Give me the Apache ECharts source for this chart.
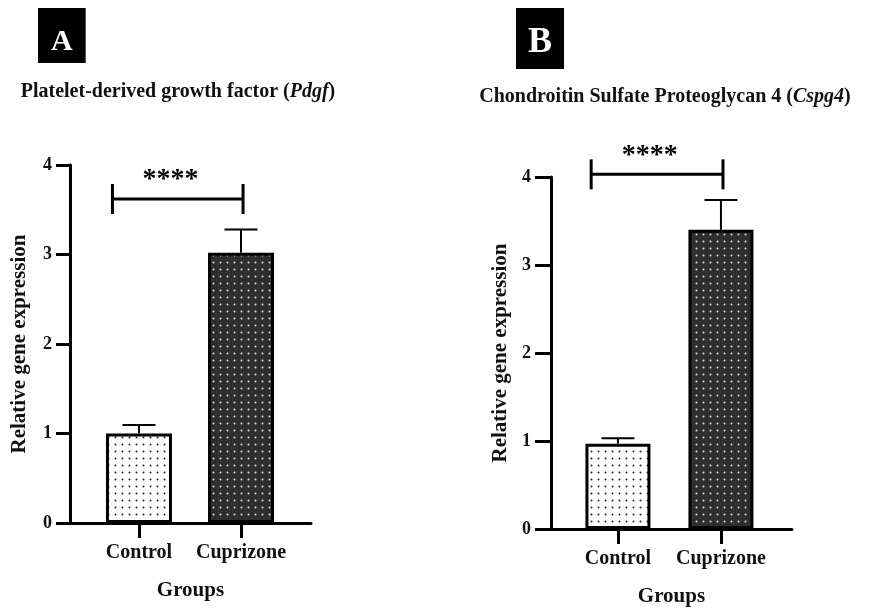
<!DOCTYPE html>
<html>
<head>
<meta charset="utf-8">
<script src="https://cdn.jsdelivr.net/npm/echarts@6/dist/echarts.min.js"></script>
<style>
  html, body { margin: 0; padding: 0; background: #fff; }
  #chart { width: 869px; height: 612px; }
</style>
</head>
<body>
<div id="chart"></div>
<script>
var categories = ['Control', 'Cuprizone'];
var yTicks = [0, 1, 2, 3, 4];
// Pdgf
var pdgfMean = [1.0, 3.02];
var pdgfUpper = [1.095, 3.28];
var pdgfSig = [3.62];
// Cspg4
var cspg4Mean = [0.97, 3.40];
var cspg4Upper = [1.03, 3.74];
var cspg4Sig = [4.03];

var serif = "'Liberation Serif', 'Times New Roman', serif";

// small dotted fills like the prism bars
function dots(bg, fg) {
    var c = document.createElement('canvas');
    c.width = 7;
    c.height = 7;
    var ctx = c.getContext('2d');
    ctx.fillStyle = bg;
    ctx.fillRect(0, 0, 7, 7);
    ctx.fillStyle = fg;
    ctx.beginPath();
    ctx.arc(3.5, 3.5, 1.0, 0, 2 * Math.PI);
    ctx.fill();
    return {image: c, repeat: 'repeat'};
}
var fills = [dots('#ffffff', '#222222'), dots('#2e2e2e', '#e0e0e0')];

function barData(means) {
    return means.map(function (v, i) {
        return {value: [i, v], itemStyle: {color: fills[i]}};
    });
}
function errData(means, upper) {
    return means.map(function (v, i) {
        return [i, v, upper[i]];
    });
}

function renderErr(params, api) {
    var base = api.coord([api.value(0), api.value(1)]);
    var top = api.coord([api.value(0), api.value(2)]);
    var st = {stroke: '#000', lineWidth: 2};
    return {
        type: 'group',
        children: [
            {type: 'line', shape: {x1: base[0], y1: base[1], x2: top[0], y2: top[1]}, style: st},
            {type: 'line', shape: {x1: top[0] - 16.5, y1: top[1], x2: top[0] + 16.5, y2: top[1]}, style: st}
        ]
    };
}

function renderSig(params, api) {
    var y = api.value(0);
    var l = api.coord([-0.26, y]);
    var r = api.coord([1.02, y]);
    var s = api.coord([0.31, y]);
    var st = {stroke: '#000', lineWidth: 3};
    return {
        type: 'group',
        children: [
            {type: 'line', shape: {x1: l[0], y1: l[1], x2: r[0], y2: r[1]}, style: st},
            {type: 'line', shape: {x1: l[0], y1: l[1] - 15, x2: l[0], y2: l[1] + 15}, style: st},
            {type: 'line', shape: {x1: r[0], y1: r[1] - 15, x2: r[0], y2: r[1] + 15}, style: st},
            {
                type: 'text', x: s[0], y: s[1] - 19,
                style: {text: '****', fill: '#000', font: 'bold 28px ' + serif, align: 'center', verticalAlign: 'middle'}
            }
        ]
    };
}

function xAxisCfg(idx, min, max) {
    return {
        type: 'value',
        gridIndex: idx,
        min: min,
        max: max,
        name: 'Groups',
        nameLocation: 'middle',
        nameGap: 57,
        nameTextStyle: {fontFamily: serif, fontWeight: 'bold', fontSize: 21, color: '#111'},
        splitLine: {show: false},
        axisLine: {onZero: false, lineStyle: {color: '#000', width: 3}},
        axisTick: {customValues: [0, 1], length: 15, lineStyle: {color: '#000', width: 3}},
        axisLabel: {
            customValues: [0, 1],
            margin: 20,
            fontFamily: serif, fontWeight: 'bold', fontSize: 20, color: '#111',
            formatter: function (v) { return categories[Math.round(v)]; }
        }
    };
}
function yAxisCfg(idx, tickLen, margin) {
    return {
        type: 'value',
        gridIndex: idx,
        min: yTicks[0],
        max: yTicks[yTicks.length - 1],
        interval: 1,
        name: 'Relative gene expression',
        nameLocation: 'middle',
        nameGap: 40,
        nameTextStyle: {fontFamily: serif, fontWeight: 'bold', fontSize: 21, color: '#111'},
        splitLine: {show: false},
        axisLine: {show: true, onZero: false, lineStyle: {color: '#000', width: 3}},
        axisTick: {show: true, length: tickLen, lineStyle: {color: '#000', width: 3}},
        axisLabel: {margin: margin, fontFamily: serif, fontWeight: 'bold', fontSize: 18, color: '#111'}
    };
}

var chart = echarts.init(document.getElementById('chart'));
var option = {
    backgroundColor: '#ffffff',
    animation: false,
    title: [
        {
            text: 'A', left: 38, top: 8, padding: [19, 13, 6, 13], backgroundColor: '#000',
            textStyle: {color: '#fff', fontFamily: serif, fontWeight: 'bold', fontSize: 30, lineHeight: 30}
        },
        {
            text: 'B', left: 516, top: 8, padding: [17, 12, 8, 12], backgroundColor: '#000',
            textStyle: {color: '#fff', fontFamily: serif, fontWeight: 'bold', fontSize: 36, lineHeight: 36}
        },
        {
            text: 'Platelet-derived growth factor ({i|Pdgf})', left: 178, top: 82, padding: 0, textAlign: 'center',
            textStyle: {
                color: '#111', fontFamily: serif, fontWeight: 'bold', fontSize: 20,
                rich: {i: {fontFamily: serif, fontWeight: 'bold', fontStyle: 'italic', fontSize: 20, color: '#111'}}
            }
        },
        {
            text: 'Chondroitin Sulfate Proteoglycan 4 ({i|Cspg4})', left: 665, top: 87, padding: 0, textAlign: 'center',
            textStyle: {
                color: '#111', fontFamily: serif, fontWeight: 'bold', fontSize: 20,
                rich: {i: {fontFamily: serif, fontWeight: 'bold', fontStyle: 'italic', fontSize: 20, color: '#111'}}
            }
        }
    ],
    grid: [
        {left: 70, top: 165, width: 241, height: 358},
        {left: 551, top: 177, width: 241, height: 356}
    ],
    xAxis: [xAxisCfg(0, -0.676, 1.686), xAxisCfg(1, -0.65, 1.69)],
    yAxis: [yAxisCfg(0, 14, 18), yAxisCfg(1, 16, 20)],
    series: [
        {
            type: 'custom', xAxisIndex: 0, yAxisIndex: 0, z: 1,
            renderItem: renderErr, data: errData(pdgfMean, pdgfUpper)
        },
        {
            type: 'bar', xAxisIndex: 0, yAxisIndex: 0, barWidth: 66, z: 2,
            itemStyle: {borderColor: '#000', borderWidth: 3},
            data: barData(pdgfMean)
        },
        {
            type: 'custom', xAxisIndex: 0, yAxisIndex: 0, z: 3,
            renderItem: renderSig, data: pdgfSig.map(function (v) { return [v]; })
        },
        {
            type: 'custom', xAxisIndex: 1, yAxisIndex: 1, z: 1,
            renderItem: renderErr, data: errData(cspg4Mean, cspg4Upper)
        },
        {
            type: 'bar', xAxisIndex: 1, yAxisIndex: 1, barWidth: 65, z: 2,
            itemStyle: {borderColor: '#000', borderWidth: 3},
            data: barData(cspg4Mean)
        },
        {
            type: 'custom', xAxisIndex: 1, yAxisIndex: 1, z: 3,
            renderItem: renderSig, data: cspg4Sig.map(function (v) { return [v]; })
        }
    ]
};
chart.setOption(option);
</script>
</body>
</html>
